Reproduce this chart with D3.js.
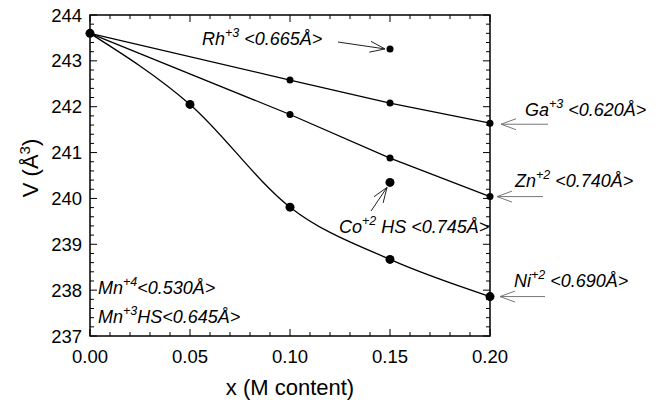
<!DOCTYPE html>
<html>
<head>
<meta charset="utf-8">
<script src="https://cdn.jsdelivr.net/npm/d3@7"></script>
<style>
  body { margin: 0; background: #fff; }
  text { font-family: "Liberation Sans", Arial, sans-serif; fill: #000; }
</style>
</head>
<body>
<div id="chart"></div>
<script>
// series: x (M content) and cell volume V
const gaX = [0, 0.10, 0.15, 0.20];
const gaV = [243.6, 242.58, 242.08, 241.64];
const znX = [0, 0.10, 0.15, 0.20];
const znV = [243.6, 241.83, 240.88, 240.04];
const niX = [0, 0.05, 0.10, 0.15, 0.20];
const niV = [243.6, 242.05, 239.81, 238.67, 237.86];
const coX = [0.15];
const coV = [240.35];
const rhX = [0.15];
const rhV = [243.26];

const xTicks = [0, 0.05, 0.10, 0.15, 0.20];
const yTicks = [237, 238, 239, 240, 241, 242, 243, 244];

const W = 667, H = 403;
const m = { left: 90, right: 177, top: 15, bottom: 67 };

const svg = d3.select('#chart').append('svg')
  .attr('width', W).attr('height', H);

const x = d3.scaleLinear().domain([0, 0.2]).range([m.left, W - m.right]);
const y = d3.scaleLinear().domain([237, 244]).range([H - m.bottom, m.top]);

// frame
svg.append('rect')
  .attr('x', x(0)).attr('y', y(244))
  .attr('width', x(0.2) - x(0)).attr('height', y(237) - y(244))
  .attr('fill', 'none').attr('stroke', '#000').attr('stroke-width', 1.5);

const xMinor = d3.range(0, 0.2001, 0.01);
const yMinor = d3.range(237, 244.001, 0.2);

const tg = svg.append('g').attr('stroke', '#000').attr('stroke-width', 1);
const isMajorX = v => Math.abs(v * 20 - Math.round(v * 20)) < 1e-6;
const isMajorY = v => Math.abs(v - Math.round(v)) < 1e-6;
xMinor.forEach(v => {
  const l = isMajorX(v) ? 7 : 4;
  tg.append('line').attr('x1', x(v)).attr('x2', x(v)).attr('y1', y(237)).attr('y2', y(237) - l);
  tg.append('line').attr('x1', x(v)).attr('x2', x(v)).attr('y1', y(244)).attr('y2', y(244) + l);
});
yMinor.forEach(v => {
  const l = isMajorY(v) ? 7 : 4;
  tg.append('line').attr('y1', y(v)).attr('y2', y(v)).attr('x1', x(0)).attr('x2', x(0) + l);
  tg.append('line').attr('y1', y(v)).attr('y2', y(v)).attr('x1', x(0.2)).attr('x2', x(0.2) - l);
});

// tick labels
svg.append('g').selectAll('text').data(xTicks).join('text')
  .attr('x', d => x(d)).attr('y', y(237) + 27)
  .attr('text-anchor', 'middle').attr('font-size', 18.5)
  .text(d => d.toFixed(2));
svg.append('g').selectAll('text').data(yTicks).join('text')
  .attr('x', x(0) - 8).attr('y', d => y(d) + 6.5)
  .attr('text-anchor', 'end').attr('font-size', 18.5)
  .text(d => d);

// axis titles
svg.append('text').attr('x', (x(0) + x(0.2)) / 2).attr('y', 395)
  .attr('text-anchor', 'middle').attr('font-size', 22).text('x (M content)');
const yt = svg.append('text').attr('transform', 'translate(38,168) rotate(-90)')
  .attr('text-anchor', 'middle').attr('font-size', 22);
yt.append('tspan').text('V (Å');
yt.append('tspan').attr('dy', -8).attr('font-size', 15).text('3');
yt.append('tspan').attr('dy', 8).text(')');

// lines
const line = d3.line().x(d => x(d[0])).y(d => y(d[1]));
const zip = (a, b) => a.map((v, i) => [v, b[i]]);
svg.append('path').datum(zip(gaX, gaV)).attr('d', line)
  .attr('fill', 'none').attr('stroke', '#000').attr('stroke-width', 1.3);
svg.append('path').datum(zip(znX, znV)).attr('d', line)
  .attr('fill', 'none').attr('stroke', '#000').attr('stroke-width', 1.3);
svg.append('path').datum(zip(niX, niV)).attr('d', line.curve(d3.curveMonotoneX))
  .attr('fill', 'none').attr('stroke', '#000').attr('stroke-width', 1.3);

// points
function dots(xs, vs, r) {
  svg.append('g').selectAll('circle').data(zip(xs, vs)).join('circle')
    .attr('cx', d => x(d[0])).attr('cy', d => y(d[1])).attr('r', r).attr('fill', '#000');
}
dots(gaX.slice(1), gaV.slice(1), 3.5);
dots(znX.slice(1), znV.slice(1), 3.5);
dots(niX, niV, 4.5);
dots(coX, coV, 4.5);
dots(rhX, rhV, 3.5);

// labels with superscripts
function label(px, py, parts) {
  const t = svg.append('text').attr('x', px).attr('y', py)
    .attr('font-size', 18).attr('font-style', 'italic');
  parts.forEach(p => {
    if (p[1]) t.append('tspan').attr('dy', -8).attr('font-size', 12.5).text(p[0]);
    else t.append('tspan').attr('dy', p[2] ? 8 : 0).text(p[0]);
  });
}
label(202, 45, [['Rh'], ['+3', 1], [' <0.665Å>', 0, 1]]);
label(525, 116, [['Ga'], ['+3', 1], [' <0.620Å>', 0, 1]]);
label(515, 187, [['Zn'], ['+2', 1], [' <0.740Å>', 0, 1]]);
label(514, 287, [['Ni'], ['+2', 1], [' <0.690Å>', 0, 1]]);
label(339, 233, [['Co'], ['+2', 1], [' HS <0.745Å>', 0, 1]]);
label(98, 294, [['Mn'], ['+4', 1], ['<0.530Å>', 0, 1]]);
label(98, 323, [['Mn'], ['+3', 1], ['HS<0.645Å>', 0, 1]]);

// arrows (open heads)
function arrow(x1, y1, x2, y2, color) {
  const a = Math.atan2(y2 - y1, x2 - x1), L = 16, s = 0.35;
  const g = svg.append('g').attr('stroke', color).attr('stroke-width', 1).attr('fill', 'none');
  g.append('line').attr('x1', x1).attr('y1', y1).attr('x2', x2).attr('y2', y2);
  g.append('polyline').attr('points', [
    [x2 - L * Math.cos(a - s), y2 - L * Math.sin(a - s)],
    [x2, y2],
    [x2 - L * Math.cos(a + s), y2 - L * Math.sin(a + s)]
  ].map(p => p.join(',')).join(' '));
}
arrow(338, 42, x(rhX[0]) - 5, y(rhV[0]), '#222');
arrow(371, 211, x(coX[0]) - 3, y(coV[0]) + 5, '#222');
arrow(548, y(gaV[3]) + 1, x(0.2) + 11, y(gaV[3]) + 1, '#777');
arrow(543, y(znV[3]), x(0.2) + 7, y(znV[3]), '#777');
arrow(545, y(niV[4]), x(0.2) + 10, y(niV[4]), '#777');
</script>
</body>
</html>
